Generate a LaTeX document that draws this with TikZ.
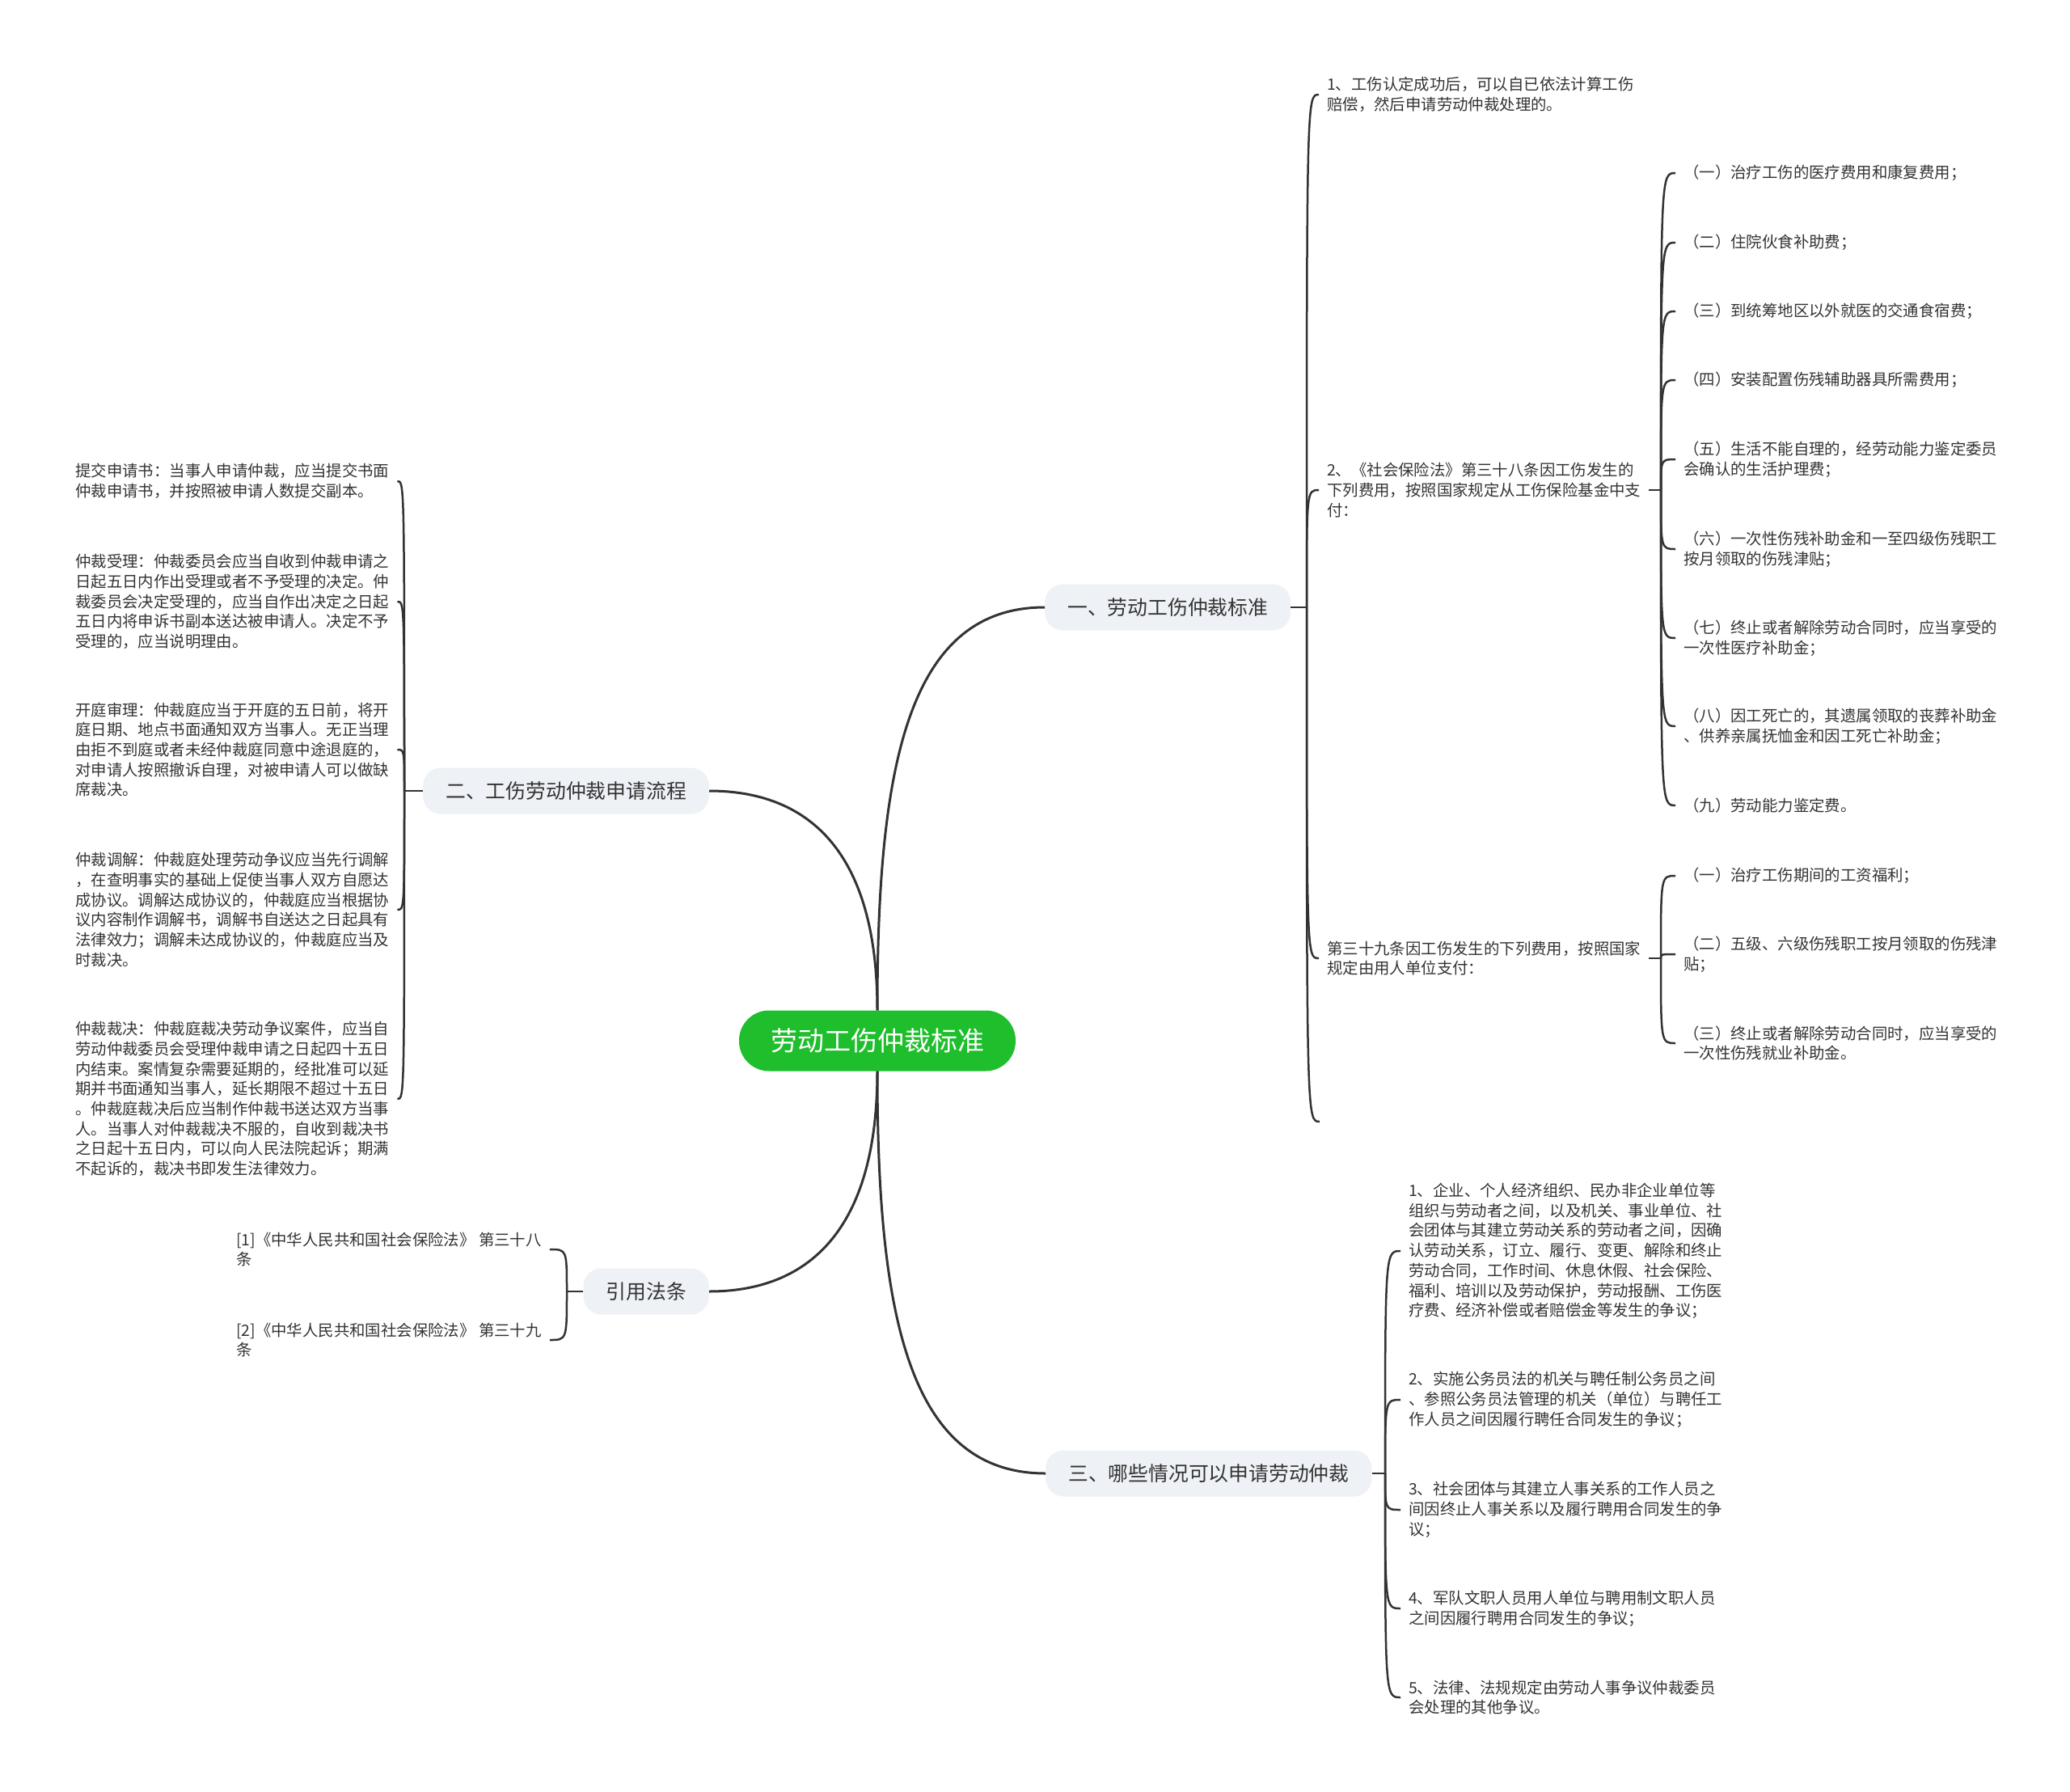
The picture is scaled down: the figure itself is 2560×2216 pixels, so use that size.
\documentclass[tikz,border=0pt]{standalone}
\usepackage{fontspec}
\setmainfont{Noto Sans CJK SC}
\usepackage{tikz}
\usepackage{xcolor}
\definecolor{rootgreen}{HTML}{1EBE2C}
\definecolor{topicgray}{HTML}{EEF1F5}
\definecolor{inkgray}{HTML}{333333}
\newcommand{\bracelink}[2]{\draw[branchline] (#1) .. controls (#1 |- #2) and (#1 |- #2) .. (#2);}

\begin{document}
\begin{tikzpicture}[x=1pt,y=-1pt,
  rootbox/.style={fill=rootgreen, text=white, rounded corners=37pt, minimum height=75pt, inner xsep=39pt, font=\fontsize{33}{40}\selectfont},
  topicbox/.style={fill=topicgray, text=inkgray, rounded corners=22pt, minimum height=57pt, inner xsep=28pt, font=\fontsize{24.8}{30}\selectfont},
  leaftext/.style={text=inkgray, align=left, inner xsep=10pt, inner ysep=0pt, font=\fontsize{19.4}{24.7}\selectfont},
  trunkline/.style={draw=inkgray, line width=3pt},
  branchline/.style={draw=inkgray, line width=2.5pt}]
\useasboundingbox (0,0) rectangle (2560,2216);

% centre and the four topics
\node[rootbox] (root) at (1085,1287) {劳动工伤仲裁标准};
\node[topicbox, anchor=west] (std) at (1292,751) {一、劳动工伤仲裁标准};
\node[topicbox, anchor=east] (flow) at (877,978) {二、工伤劳动仲裁申请流程};
\node[topicbox, anchor=east] (cite) at (877,1597) {引用法条};
\node[topicbox, anchor=west] (cases) at (1293,1822) {三、哪些情况可以申请劳动仲裁};

\draw[trunkline] (root.north) .. controls +(0,-300) and +(-170,0) .. (std.west);
\draw[trunkline] (root.north) .. controls +(0,-200) and +(120,0) .. (flow.east);
\draw[trunkline] (root.south) .. controls +(0,200) and +(120,0) .. (cite.east);
\draw[trunkline] (root.south) .. controls +(0,300) and +(-170,0) .. (cases.west);

% 一、劳动工伤仲裁标准
\coordinate (stdJ) at (1616,751);
\draw[branchline] (std.east) -- (stdJ);
\node[leaftext, anchor=west] (s1) at (1631,117) {1、工伤认定成功后，可以自已依法计算工伤\\赔偿，然后申请劳动仲裁处理的。};
\node[leaftext, anchor=west] (s2) at (1631,606) {2、《社会保险法》第三十八条因工伤发生的\\下列费用，按照国家规定从工伤保险基金中支\\付：};
\node[leaftext, anchor=west] (s3) at (1631,1185) {第三十九条因工伤发生的下列费用，按照国家\\规定由用人单位支付：};
\coordinate (s4) at (1632,1387);
\bracelink{stdJ}{s1.west}
\bracelink{stdJ}{s2.west}
\bracelink{stdJ}{s3.west}
\bracelink{stdJ}{s4}

\coordinate (s2J) at (2054,606);
\draw[branchline] (s2.east) -- (s2J);
\node[leaftext, anchor=west] (p1) at (2072,214) {（一）治疗工伤的医疗费用和康复费用；};
\node[leaftext, anchor=west] (p2) at (2072,300) {（二）住院伙食补助费；};
\node[leaftext, anchor=west] (p3) at (2072,385) {（三）到统筹地区以外就医的交通食宿费；};
\node[leaftext, anchor=west] (p4) at (2072,470) {（四）安装配置伤残辅助器具所需费用；};
\node[leaftext, anchor=west] (p5) at (2072,568) {（五）生活不能自理的，经劳动能力鉴定委员\\会确认的生活护理费；};
\node[leaftext, anchor=west] (p6) at (2072,679) {（六）一次性伤残补助金和一至四级伤残职工\\按月领取的伤残津贴；};
\node[leaftext, anchor=west] (p7) at (2072,789) {（七）终止或者解除劳动合同时，应当享受的\\一次性医疗补助金；};
\node[leaftext, anchor=west] (p8) at (2072,898) {（八）因工死亡的，其遗属领取的丧葬补助金\\、供养亲属抚恤金和因工死亡补助金；};
\node[leaftext, anchor=west] (p9) at (2072,996) {（九）劳动能力鉴定费。};
\bracelink{s2J}{p1.west}
\bracelink{s2J}{p2.west}
\bracelink{s2J}{p3.west}
\bracelink{s2J}{p4.west}
\bracelink{s2J}{p5.west}
\bracelink{s2J}{p6.west}
\bracelink{s2J}{p7.west}
\bracelink{s2J}{p8.west}
\bracelink{s2J}{p9.west}

\coordinate (s3J) at (2054,1185);
\draw[branchline] (s3.east) -- (s3J);
\node[leaftext, anchor=west] (q1) at (2072,1083) {（一）治疗工伤期间的工资福利；};
\node[leaftext, anchor=west] (q2) at (2072,1180) {（二）五级、六级伤残职工按月领取的伤残津\\贴；};
\node[leaftext, anchor=west] (q3) at (2072,1290) {（三）终止或者解除劳动合同时，应当享受的\\一次性伤残就业补助金。};
\bracelink{s3J}{q1.west}
\bracelink{s3J}{q2.west}
\bracelink{s3J}{q3.west}

% 二、工伤劳动仲裁申请流程
\coordinate (flowJ) at (500,978);
\draw[branchline] (flow.west) -- (flowJ);
\node[leaftext, anchor=west] (f1) at (83,595) {提交申请书：当事人申请仲裁，应当提交书面\\仲裁申请书，并按照被申请人数提交副本。};
\node[leaftext, anchor=west] (f2) at (83,744) {仲裁受理：仲裁委员会应当自收到仲裁申请之\\日起五日内作出受理或者不予受理的决定。仲\\裁委员会决定受理的，应当自作出决定之日起\\五日内将申诉书副本送达被申请人。决定不予\\受理的，应当说明理由。};
\node[leaftext, anchor=west] (f3) at (83,927) {开庭审理：仲裁庭应当于开庭的五日前，将开\\庭日期、地点书面通知双方当事人。无正当理\\由拒不到庭或者未经仲裁庭同意中途退庭的，\\对申请人按照撤诉自理，对被申请人可以做缺\\席裁决。};
\node[leaftext, anchor=west] (f4) at (83,1125) {仲裁调解：仲裁庭处理劳动争议应当先行调解\\，在查明事实的基础上促使当事人双方自愿达\\成协议。调解达成协议的，仲裁庭应当根据协\\议内容制作调解书，调解书自送达之日起具有\\法律效力；调解未达成协议的，仲裁庭应当及\\时裁决。};
\node[leaftext, anchor=west] (f5) at (83,1359) {仲裁裁决：仲裁庭裁决劳动争议案件，应当自\\劳动仲裁委员会受理仲裁申请之日起四十五日\\内结束。案情复杂需要延期的，经批准可以延\\期并书面通知当事人，延长期限不超过十五日\\。仲裁庭裁决后应当制作仲裁书送达双方当事\\人。当事人对仲裁裁决不服的，自收到裁决书\\之日起十五日内，可以向人民法院起诉；期满\\不起诉的，裁决书即发生法律效力。};
\bracelink{flowJ}{f1.east}
\bracelink{flowJ}{f2.east}
\bracelink{flowJ}{f3.east}
\bracelink{flowJ}{f4.east}
\bracelink{flowJ}{f5.east}

% 引用法条
\coordinate (citeJ) at (701,1597);
\draw[branchline] (cite.west) -- (citeJ);
\node[leaftext, anchor=west] (r1) at (282,1545) {[1]《中华人民共和国社会保险法》 第三十八\\条};
\node[leaftext, anchor=west] (r2) at (282,1657) {[2]《中华人民共和国社会保险法》 第三十九\\条};
\bracelink{citeJ}{r1.east}
\bracelink{citeJ}{r2.east}

% 三、哪些情况可以申请劳动仲裁
\coordinate (casesJ) at (1713,1822);
\draw[branchline] (cases.east) -- (casesJ);
\node[leaftext, anchor=west] (c1) at (1732,1547) {1、企业、个人经济组织、民办非企业单位等\\组织与劳动者之间，以及机关、事业单位、社\\会团体与其建立劳动关系的劳动者之间，因确\\认劳动关系，订立、履行、变更、解除和终止\\劳动合同，工作时间、休息休假、社会保险、\\福利、培训以及劳动保护，劳动报酬、工伤医\\疗费、经济补偿或者赔偿金等发生的争议；};
\node[leaftext, anchor=west] (c2) at (1732,1731) {2、实施公务员法的机关与聘任制公务员之间\\、参照公务员法管理的机关（单位）与聘任工\\作人员之间因履行聘任合同发生的争议；};
\node[leaftext, anchor=west] (c3) at (1732,1867) {3、社会团体与其建立人事关系的工作人员之\\间因终止人事关系以及履行聘用合同发生的争\\议；};
\node[leaftext, anchor=west] (c4) at (1732,1989) {4、军队文职人员用人单位与聘用制文职人员\\之间因履行聘用合同发生的争议；};
\node[leaftext, anchor=west] (c5) at (1732,2099) {5、法律、法规规定由劳动人事争议仲裁委员\\会处理的其他争议。};
\bracelink{casesJ}{c1.west}
\bracelink{casesJ}{c2.west}
\bracelink{casesJ}{c3.west}
\bracelink{casesJ}{c4.west}
\bracelink{casesJ}{c5.west}
\end{tikzpicture}
\end{document}
